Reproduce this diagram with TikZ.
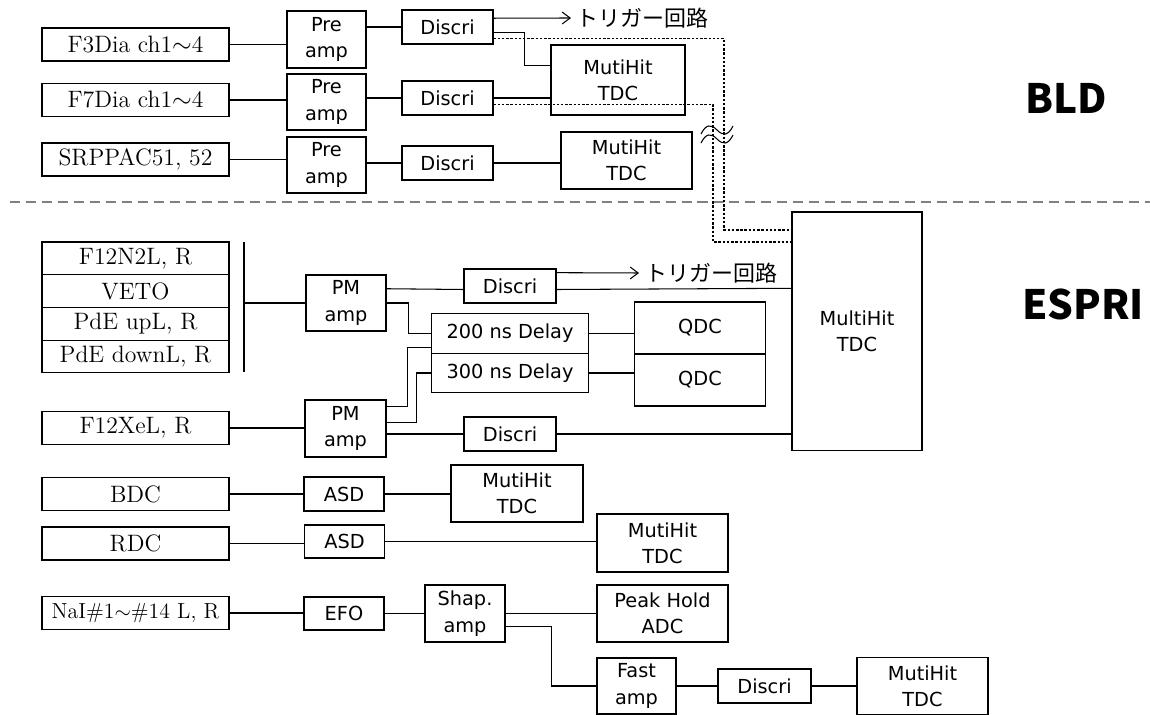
\documentclass[tikz,border=0pt]{standalone}
\usepackage{fontspec}
\usetikzlibrary{arrows.meta,calc}
\newfontfamily\jpfont{Noto Sans CJK JP}
\newfontfamily\modfont{DejaVu Sans}
\definecolor{divgray}{RGB}{128,128,128}
\tikzset{
  sig line/.style={line width=0.6pt},
  sig dotted/.style={line width=0.6pt,dash pattern=on 1.4pt off 1pt},
  sig arrow/.style={-{Straight Barb[length=1.6mm,width=2.4mm]},line width=0.6pt},
  divider/.style={draw=divgray,line width=1.1pt,dash pattern=on 5.7pt off 3.4pt},
  mod box/.style 2 args={
    draw,
    line width=0.6pt,
    inner sep=0pt,
    align=center,
    minimum width=#1*0.2mm,
    minimum height=#2*0.2mm,
    font=\modfont\fontsize{11}{15}\selectfont
  },
  det box/.style={
    draw,
    line width=0.6pt,
    inner sep=0pt,
    minimum width=37.4mm,
    minimum height=6.6mm,
    font=\fontsize{13.5}{15}\selectfont
  },
  trig label/.style={anchor=west,inner sep=0pt,font=\jpfont\fontsize{12.5}{14}\selectfont},
  sect label/.style={font=\jpfont\bfseries\fontsize{23}{27}\selectfont}
}

\begin{document}
\begin{tikzpicture}[x=0.02cm,y=-0.02cm]
  \useasboundingbox (0,0) rectangle (1150,715);

  % BLD
  \node[det box] (f3) at (135.5,44.5) {F3Dia ch1$\sim$4};
  \node[det box] (f7) at (135.5,100) {F7Dia ch1$\sim$4};
  \node[det box] (srp) at (135.5,159.5) {SRPPAC51, 52};
  \node[mod box={79}{57}] (pre1) at (326.5,39.5) {Pre\\amp};
  \node[mod box={79}{56}] (pre2) at (326.5,102) {Pre\\amp};
  \node[mod box={79}{56}] (pre3) at (326.5,165) {Pre\\amp};
  \node[mod box={91}{34}] (dis1) at (447.5,27) {Discri};
  \node[mod box={91}{34}] (dis2) at (447.5,98) {Discri};
  \node[mod box={91}{34}] (dis3) at (447.5,163) {Discri};
  \node[mod box={134}{70}] (tdc1) at (618,80) {MutiHit\\TDC};
  \node[mod box={131}{57}] (tdc2) at (626.5,160.5) {MutiHit\\TDC};
  \node[trig label] (trig1) at (576,18) {トリガー回路};
  \node[sect label] (bld) at (1066,98) {BLD};

  \draw[sig line] (f3.east) -- (f3.east -| pre1.west);
  \draw[sig line] (f7.east) -- (f7.east -| pre2.west);
  \draw[sig line] (srp.east) -- (srp.east -| pre3.west);
  \draw[sig line] (dis1.west -| pre1.east) -- (dis1.west);
  \draw[sig line] (dis2.west -| pre2.east) -- (dis2.west);
  \draw[sig line] (dis3.west -| pre3.east) -- (dis3.west);
  \draw[sig arrow] ($(dis1.north east)!0.25!(dis1.south east)$) -- ($(trig1.west)+(-5,0)$);
  \draw[sig line] ($(dis1.north east)!0.65!(dis1.south east)$) -- ++(31,0)
    |- ($(tdc1.north west)!0.29!(tdc1.south west)$);
  \draw[sig line] (dis2.east) -- (dis2.east -| tdc1.west);
  \draw[sig line] (dis3.east) -- (dis3.east -| tdc2.west);

  \coordinate (divL) at (10,202);
  \coordinate (divR) at (1150,202);
  \draw[divider] (divL) -- (divR);

  % ESPRI
  \node[det box,minimum height=6.55mm] (s1) at (135.5,258.4) {F12N2L, R};
  \node[det box,minimum height=6.55mm] (s2) at (135.5,291.1) {VETO};
  \node[det box,minimum height=6.55mm] (s3) at (135.5,323.9) {PdE upL, R};
  \node[det box,minimum height=6.55mm] (s4) at (135.5,356.6) {PdE downL, R};
  \node[det box] (f12xe) at (135.5,428) {F12XeL, R};
  \node[mod box={80}{56}] (pm1) at (346,303) {PM\\amp};
  \node[mod box={81}{57}] (pm2) at (345.5,428.5) {PM\\amp};
  \node[mod box={92}{34}] (dis4) at (510,286) {Discri};
  \node[mod box={157}{39.5}] (d200) at (510,333.5) {200 ns Delay};
  \node[mod box={157}{39.5}] (d300) at (510,373) {300 ns Delay};
  \node[mod box={131}{52}] (qdc1) at (700,328) {QDC};
  \node[mod box={131}{52}] (qdc2) at (700,380) {QDC};
  \node[mod box={92}{34}] (dis5) at (510,434) {Discri};
  \node[mod box={130}{239}] (bigtdc) at (857,331.5) {MultiHit\\TDC};
  \node[trig label] (trig2) at (645,273) {トリガー回路};
  \node[sect label] (espri) at (1083,304) {ESPRI};

  % long cables from BLD
  \coordinate (bldin1) at (724,230);
  \coordinate (bldin2) at (713,242);
  \draw[sig dotted] ($(dis1.north east)!0.82!(dis1.south east)$) -| (bldin1) -- (bldin1 -| bigtdc.west);
  \draw[sig dotted] ($(dis2.north east)!0.68!(dis2.south east)$) -| (bldin2) -- (bldin2 -| bigtdc.west);
  \draw[line width=0.6pt] (701,134) .. controls (706,124) and (711,124) .. (717,130)
    .. controls (723,136) and (728,136) .. (733,126);
  \draw[line width=0.6pt] (701,143) .. controls (706,133) and (711,133) .. (717,139)
    .. controls (723,145) and (728,145) .. (733,135);

  \coordinate (bustop) at (244,242);
  \coordinate (busbot) at (244,372);
  \draw[sig line] (bustop) -- (busbot);
  \draw[sig line] (bustop |- pm1.west) -- (pm1.west);
  \draw[sig line] (f12xe.east) -- (f12xe.east -| pm2.west);
  \draw[sig line] ($(pm1.north east)!0.25!(pm1.south east)$) -- ($(dis4.north west)!0.6!(dis4.south west)$);
  \draw[sig line] (pm1.east) -- ++(22,0) |- (d200.west);
  \draw[sig arrow] ($(dis4.north east)!0.12!(dis4.south east)$) -- ($(trig2.west)+(-6,0)$);
  \draw[sig line] ($(dis4.north east)!0.6!(dis4.south east)$) -- ($(bigtdc.north west)!0.32!(bigtdc.south west)$);
  \draw[sig line] ($(pm2.north east)!0.12!(pm2.south east)$) -- ++(21,0)
    |- ($(d200.north west)!0.85!(d200.south west)$);
  \draw[sig line] ($(pm2.north east)!0.4!(pm2.south east)$) -- ++(30,0) |- (d300.west);
  \draw[sig line] (dis5.west -| pm2.east) -- (dis5.west);
  \draw[sig line] (dis5.east) -- (dis5.east -| bigtdc.west);
  \draw[sig line] (d200.east) -- (d200.east -| qdc1.west);
  \draw[sig line] (d300.east) -- (d300.east -| qdc2.west);

  \node[det box] (bdc) at (135.5,494) {BDC};
  \node[det box] (rdc) at (135.5,543.5) {RDC};
  \node[det box,font=\fontsize{12.4}{14}\selectfont] (nai) at (135.5,613) {NaI\#1$\sim$\#14 L, R};
  \node[mod box={80}{34}] (asd1) at (344,494) {ASD};
  \node[mod box={80}{33}] (asd2) at (344.5,541.5) {ASD};
  \node[mod box={80}{33}] (efo) at (344,613.5) {EFO};
  \node[mod box={132}{57}] (tdc3) at (517,493.5) {MutiHit\\TDC};
  \node[mod box={131}{58}] (tdc4) at (662.5,543) {MutiHit\\TDC};
  \node[mod box={80}{57}] (shap) at (465,613.5) {Shap.\\amp};
  \node[mod box={131}{57}] (peak) at (662.5,613.5) {Peak Hold\\ADC};
  \node[mod box={79}{56}] (fast) at (636.5,686) {Fast\\amp};
  \node[mod box={93}{34}] (dis6) at (764.5,686) {Discri};
  \node[mod box={131}{57}] (tdc5) at (922.5,686) {MutiHit\\TDC};

  \draw[sig line] (bdc.east) -- (bdc.east -| asd1.west);
  \draw[sig line] (asd1.east) -- (asd1.east -| tdc3.west);
  \draw[sig line] (rdc.east) -- (rdc.east -| asd2.west);
  \draw[sig line] (asd2.east) -- (asd2.east -| tdc4.west);
  \draw[sig line] (nai.east) -- (nai.east -| efo.west);
  \draw[sig line] (efo.east) -- (efo.east -| shap.west);
  \draw[sig line] (shap.east) -- (shap.east -| peak.west);
  \draw[sig line] ($(shap.north east)!0.72!(shap.south east)$) -- ++(46,0) |- (fast.west);
  \draw[sig line] (fast.east) -- (fast.east -| dis6.west);
  \draw[sig line] (dis6.east) -- (dis6.east -| tdc5.west);
\end{tikzpicture}
\end{document}
